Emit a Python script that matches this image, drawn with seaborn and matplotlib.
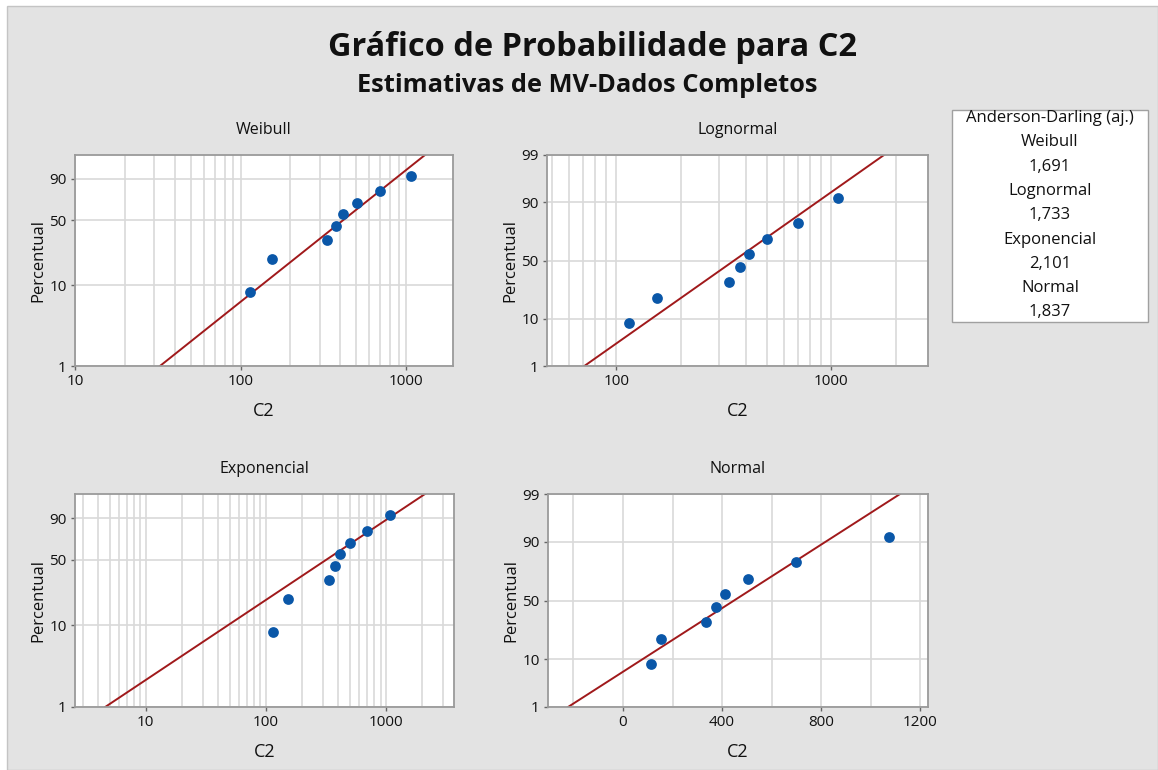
import numpy as np
import matplotlib
matplotlib.use("Agg")
import matplotlib.pyplot as plt
import seaborn as sns
from matplotlib.ticker import FixedLocator, FixedFormatter, NullFormatter
from matplotlib.patches import Rectangle
from statistics import NormalDist

# ---------------- data ----------------
c2_values = [114, 154, 334, 376, 414, 505, 700, 1075]
percent_values = [8.33, 20.24, 32.14, 44.05, 55.95, 67.86, 79.76, 91.67]

panel_names = ["Weibull", "Lognormal", "Exponencial", "Normal"]
fit_weibull_x = [32.6, 1300]
fit_lognormal_x = [71, 1760]
fit_exponencial_x = [4.6, 2110]
fit_normal_x = [-222, 1119]
fit_percent = [1, 99]

ad_names = ["Weibull", "Lognormal", "Exponencial", "Normal"]
ad_values = ["1,691", "1,733", "2,101", "1,837"]

weibull_xticks = [10, 100, 1000]
lognormal_xticks = [100, 1000]
exponencial_xticks = [10, 100, 1000]
normal_xticks = [0, 400, 800, 1200]
y_ticks_sev = [1, 10, 50, 90]
y_ticks_norm = [1, 10, 50, 90, 99]

# ---------------- style ----------------
FONT = "Open Sans"
BG = "#E3E3E3"
GRID = "#D9D9D9"
FRAME = "#9A9A9A"
BLUE = "#0A57A8"
RED = "#A0191B"
TXT = "#111111"

plt.rcParams["font.family"] = [FONT, "DejaVu Sans"]

W, H = 1158, 770
fig = plt.figure(figsize=(W / 100, H / 100), dpi=100)
fig.patch.set_facecolor("white")
fig.patches.append(Rectangle((7 / W, 0), 1 - 7 / W, 1 - 6 / H, transform=fig.transFigure,
                             facecolor=BG, edgecolor="#C4C4C4", lw=1.0, zorder=-10))


def px_axes(left, top, right, bottom):
    return [left / W, 1 - bottom / H, (right - left) / W, (bottom - top) / H]


_nd = NormalDist()


def _clip(p):
    return np.clip(np.asarray(p, dtype=float), 1e-4, 100 - 1e-4)


def sev_fwd(p):
    q = _clip(p) / 100.0
    return np.log(-np.log1p(-q))


def sev_inv(y):
    return 100.0 * (-np.expm1(-np.exp(np.asarray(y, dtype=float))))


_ppf = np.vectorize(lambda v: _nd.inv_cdf(v / 100.0), otypes=[float])
_cdf = np.vectorize(lambda v: 100.0 * _nd.cdf(v), otypes=[float])


def norm_fwd(p):
    return _ppf(_clip(p))


def norm_inv(y):
    return _cdf(np.asarray(y, dtype=float))


def decades(lo, hi):
    out = []
    d = 1
    while d <= hi:
        for k in range(1, 10):
            v = k * d
            if lo < v < hi:
                out.append(v)
        d *= 10
    return out


panels = [
    dict(name="Weibull", rect=px_axes(75, 155, 453, 366), fit=fit_weibull_x, xlog=True,
         xlim=(10, 1920), xt=weibull_xticks, yscale=(sev_fwd, sev_inv), yt=y_ticks_sev),
    dict(name="Lognormal", rect=px_axes(547, 155, 928, 366), fit=fit_lognormal_x, xlog=True,
         xlim=(47.6, 2820), xt=lognormal_xticks, yscale=(norm_fwd, norm_inv), yt=y_ticks_norm),
    dict(name="Exponencial", rect=px_axes(75, 494, 454, 707), fit=fit_exponencial_x, xlog=True,
         xlim=(2.58, 3680), xt=exponencial_xticks, yscale=(sev_fwd, sev_inv), yt=y_ticks_sev),
    dict(name="Normal", rect=px_axes(548, 494, 928, 707), fit=fit_normal_x, xlog=False,
         xlim=(-303, 1232), xt=normal_xticks, yscale=(norm_fwd, norm_inv), yt=y_ticks_norm),
]

for pn in panels:
    ax = fig.add_axes(pn["rect"])
    ax.set_facecolor("white")
    sns.lineplot(x=pn["fit"], y=fit_percent, ax=ax, color=RED, lw=1.4, zorder=2)
    sns.scatterplot(x=c2_values, y=percent_values, ax=ax, color=BLUE, s=60,
                    linewidth=0, edgecolor=None, zorder=3)

    if pn["xlog"]:
        ax.set_xscale("log")
        ax.xaxis.set_minor_locator(FixedLocator(decades(pn["xlim"][0], pn["xlim"][1])))
    else:
        ax.xaxis.set_minor_locator(FixedLocator([-200, 200, 600, 1000]))
    ax.xaxis.set_major_locator(FixedLocator(pn["xt"]))
    ax.xaxis.set_major_formatter(FixedFormatter([str(v) for v in pn["xt"]]))
    ax.xaxis.set_minor_formatter(NullFormatter())
    ax.set_xlim(*pn["xlim"])

    ax.set_yscale("function", functions=pn["yscale"])
    ax.yaxis.set_major_locator(FixedLocator(pn["yt"]))
    ax.yaxis.set_major_formatter(FixedFormatter([str(v) for v in pn["yt"]]))
    ax.yaxis.set_minor_locator(FixedLocator([]))
    ax.set_ylim(1, 99)

    ax.set_axisbelow(True)
    ax.grid(True, which="both", color=GRID, lw=1.2)
    ax.tick_params(which="major", length=3, width=1, color="#666666", labelsize=11,
                   labelcolor=TXT, pad=3)
    ax.tick_params(which="minor", length=0)
    for sp in ax.spines.values():
        sp.set_color(FRAME)
        sp.set_linewidth(1.3)

    ax.set_xlabel("C2", fontsize=13, color=TXT, labelpad=9)
    ax.set_ylabel("Percentual", fontsize=12, color=TXT, labelpad=2)

    x0, y0, w, h = pn["rect"]
    fig.text(x0 + w / 2, y0 + h + 25 / H, pn["name"], ha="center", va="center",
             fontsize=11.5, color=TXT)

fig.text(593 / W, 1 - 48 / H, "Gráfico de Probabilidade para C2", ha="center", va="center",
         fontsize=23.4, fontweight="bold", color=TXT)
fig.text(587 / W, 1 - 86 / H, "Estimativas de MV-Dados Completos", ha="center", va="center",
         fontsize=18.3, fontweight="bold", color=TXT)

# Anderson-Darling box
fig.patches.append(Rectangle((952 / W, 1 - 322 / H), 196 / W, 212 / H, transform=fig.transFigure,
                             facecolor="white", edgecolor="#A0A0A0", lw=1.0, zorder=1))
box_lines = ["Anderson-Darling (aj.)"]
for nm, vv in zip(ad_names, ad_values):
    box_lines += [nm, vv]
for i, t in enumerate(box_lines):
    fig.text(1050 / W, 1 - (118 + i * 24.3) / H, t, ha="center", va="center",
             fontsize=12, color=TXT, zorder=2)

fig.savefig("out.png", dpi=100, facecolor=fig.get_facecolor())
